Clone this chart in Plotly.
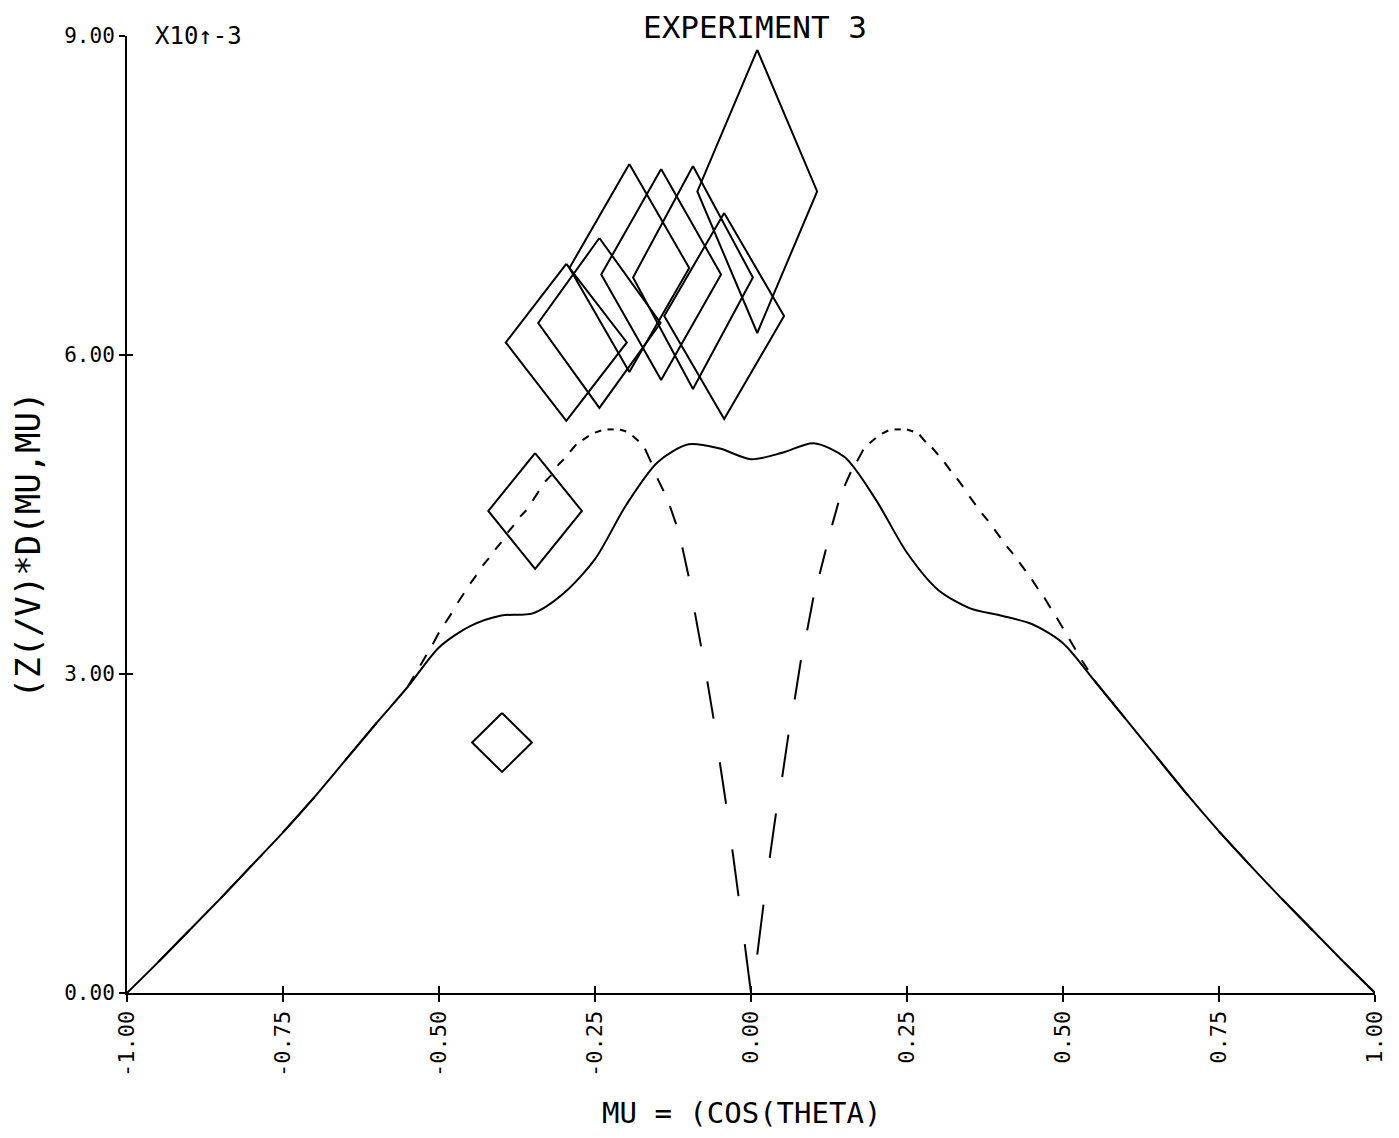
import plotly.graph_objects as go

FONT = "DejaVu Sans Mono"
INK = "black"

# ---- smeared angular distribution (solid curve), in units of 1e-3
mu_solid = [-1.00, -0.95, -0.90, -0.85, -0.80, -0.75, -0.70, -0.65, -0.60, -0.55,
            -0.50, -0.45, -0.40, -0.35, -0.30, -0.25, -0.20, -0.15, -0.10, -0.05,
            0.00, 0.05, 0.10, 0.15, 0.20, 0.25, 0.30, 0.35, 0.40, 0.45,
            0.50, 0.55, 0.60, 0.65, 0.70, 0.75, 0.80, 0.85, 0.90, 0.95, 1.00]
d_solid = [0.00, 0.29, 0.59, 0.89, 1.20, 1.51, 1.84, 2.19, 2.54, 2.88,
           3.25, 3.45, 3.55, 3.57, 3.76, 4.08, 4.59, 4.99, 5.16, 5.12,
           5.02, 5.08, 5.17, 5.04, 4.64, 4.14, 3.79, 3.62, 3.55, 3.47,
           3.29, 2.94, 2.58, 2.22, 1.86, 1.52, 1.20, 0.89, 0.59, 0.29, 0.00]

# ---- unsmeared branches (dashed curves), one for each hemisphere
mu_left = [-1.00, -0.95, -0.90, -0.85, -0.80, -0.75, -0.70, -0.65, -0.60,
           -0.55, -0.54, -0.53, -0.52, -0.51, -0.50, -0.49, -0.48, -0.47, -0.46,
           -0.45, -0.44, -0.43, -0.42, -0.41, -0.40, -0.39, -0.38, -0.37, -0.36,
           -0.35, -0.34, -0.33, -0.32, -0.31, -0.30, -0.29, -0.28, -0.27, -0.26,
           -0.25, -0.24, -0.23, -0.22, -0.21, -0.20, -0.19, -0.18, -0.17, -0.16,
           -0.15, -0.14, -0.13, -0.12, -0.11, -0.10, -0.09, -0.08, -0.07, -0.06,
           -0.05, -0.04, -0.03, -0.02, -0.01, 0.00]
d_left = [0.00, 0.29, 0.59, 0.89, 1.20, 1.51, 1.84, 2.19, 2.54,
          2.88, 2.98, 3.08, 3.18, 3.28, 3.39, 3.48, 3.57, 3.67, 3.76,
          3.85, 3.93, 4.02, 4.09, 4.17, 4.24, 4.33, 4.40, 4.48, 4.54,
          4.63, 4.72, 4.81, 4.87, 4.96, 5.02, 5.09, 5.16, 5.20, 5.24,
          5.27, 5.29, 5.30, 5.30, 5.30, 5.28, 5.24, 5.19, 5.12, 4.99,
          4.84, 4.72, 4.58, 4.41, 4.19, 3.92, 3.58, 3.26, 2.93, 2.58,
          2.17, 1.78, 1.35, 0.91, 0.46, 0.00]

mu_right = [0.00, 0.01, 0.02, 0.03, 0.04, 0.05, 0.06, 0.07, 0.08, 0.09,
            0.10, 0.11, 0.12, 0.13, 0.14, 0.15, 0.16, 0.17, 0.18, 0.19,
            0.20, 0.21, 0.22, 0.23, 0.24, 0.25, 0.26, 0.27, 0.28, 0.29,
            0.30, 0.31, 0.32, 0.33, 0.34, 0.35, 0.36, 0.37, 0.38, 0.39,
            0.40, 0.41, 0.42, 0.43, 0.44, 0.45, 0.46, 0.47, 0.48, 0.49,
            0.50, 0.51, 0.52, 0.53, 0.54, 0.55,
            0.60, 0.65, 0.70, 0.75, 0.80, 0.85, 0.90, 0.95, 1.00]
d_right = [0.00, 0.36, 0.83, 1.27, 1.69, 2.03, 2.43, 2.76, 3.13, 3.41,
           3.72, 3.94, 4.17, 4.40, 4.61, 4.77, 4.90, 5.00, 5.11, 5.17,
           5.22, 5.26, 5.29, 5.30, 5.30, 5.30, 5.28, 5.25, 5.18, 5.13,
           5.06, 4.99, 4.91, 4.84, 4.76, 4.67, 4.59, 4.51, 4.44, 4.36,
           4.28, 4.20, 4.13, 4.05, 3.97, 3.89, 3.80, 3.72, 3.62, 3.53,
           3.43, 3.33, 3.23, 3.13, 3.04, 2.94,
           2.58, 2.22, 1.86, 1.52, 1.20, 0.89, 0.59, 0.29, 0.00]

# ---- measured points: centre and half-widths of the error diamonds
pt_mu = [-0.399, -0.346, -0.296, -0.243, -0.195, -0.144, -0.093, -0.043, 0.010]
pt_d = [2.356, 4.533, 6.118, 6.301, 6.818, 6.757, 6.729, 6.367, 7.538]
pt_dmu = [0.048, 0.075, 0.097, 0.098, 0.096, 0.096, 0.096, 0.096, 0.096]
pt_dd = [0.277, 0.545, 0.738, 0.799, 0.978, 0.992, 1.049, 0.969, 1.331]

x_ticks = [-1.00, -0.75, -0.50, -0.25, 0.00, 0.25, 0.50, 0.75, 1.00]
x_ticktext = ["-1.00", "-0.75", "-0.50", "-0.25", "0.00", "0.25", "0.50", "0.75", "1.00"]
y_ticks = [0, 3, 6, 9]
y_ticktext = ["0.00", "3.00", "6.00", "9.00"]


def pen_segments(xs, ys, first_down):
    """Plotter-style dashing: the pen is lowered on every other step."""
    px, py = [], []
    for k in range(len(xs) - 1):
        if (k % 2 == 0) == first_down:
            px += [xs[k], xs[k + 1], None]
            py += [ys[k], ys[k + 1], None]
    return px, py


def diamonds(cx, cy, ex, ey):
    xs, ys = [], []
    for x, y, dx, dy in zip(cx, cy, ex, ey):
        xs += [x, x + dx, x, x - dx, x, None]
        ys += [y + dy, y, y - dy, y, y + dy, None]
    return xs, ys


fig = go.Figure()

lx, ly = pen_segments(mu_left, d_left, first_down=False)
rx, ry = pen_segments(mu_right, d_right, first_down=False)
for xs, ys in ((lx, ly), (rx, ry)):
    fig.add_trace(go.Scatter(x=xs, y=ys, mode="lines", showlegend=False,
                             line=dict(color=INK, width=2), hoverinfo="skip"))

fig.add_trace(go.Scatter(x=mu_solid, y=d_solid, mode="lines", showlegend=False,
                         line=dict(color=INK, width=2, shape="spline", smoothing=0.8)))

dx_, dy_ = diamonds(pt_mu, pt_d, pt_dmu, pt_dd)
fig.add_trace(go.Scatter(x=dx_, y=dy_, mode="lines", showlegend=False,
                         line=dict(color=INK, width=2)))

# companion axes carrying the inward half of the crossing tick marks
fig.add_trace(go.Scatter(x=[None], y=[None], xaxis="x2", yaxis="y2",
                         showlegend=False, hoverinfo="skip"))

fig.update_layout(
    width=1399, height=1138,
    margin=dict(l=127, r=18, t=36, b=145, pad=0),
    paper_bgcolor="white", plot_bgcolor="white",
    font=dict(family=FONT, color=INK),
    xaxis=dict(range=[-1, 1], showgrid=False, zeroline=False,
               showline=True, linecolor=INK, linewidth=2,
               ticks="outside", ticklen=7, tickwidth=2, tickcolor=INK,
               tickvals=x_ticks, ticktext=x_ticktext, tickangle=-90,
               ticklabeloverflow="allow",
               tickfont=dict(family=FONT, size=22, color=INK)),
    yaxis=dict(range=[0, 9], showgrid=False, zeroline=False,
               showline=True, linecolor=INK, linewidth=2,
               ticks="outside", ticklen=6, tickwidth=2, tickcolor=INK,
               tickvals=y_ticks, ticktext=y_ticktext,
               ticklabeloverflow="allow",
               tickfont=dict(family=FONT, size=21, color=INK)),
    xaxis2=dict(range=[-1, 1], overlaying="x", anchor="y2", side="bottom",
                showgrid=False, zeroline=False, showline=False,
                ticks="inside", ticklen=7, tickwidth=2, tickcolor=INK,
                tickvals=x_ticks, showticklabels=False),
    yaxis2=dict(range=[0, 9], overlaying="y", anchor="x2", side="left",
                showgrid=False, zeroline=False, showline=False,
                ticks="inside", ticklen=6, tickwidth=2, tickcolor=INK,
                tickvals=y_ticks, showticklabels=False),
    annotations=[
        dict(text="EXPERIMENT 3", xref="paper", yref="paper", x=0.503, y=1.0094,
             xanchor="center", yanchor="middle", showarrow=False,
             font=dict(family=FONT, size=31, color=INK)),
        dict(text="X10\u2191-3", xref="paper", yref="paper", x=0.021, y=1.0,
             xanchor="left", yanchor="middle", showarrow=False,
             font=dict(family=FONT, size=24, color=INK)),
        dict(text="MU = (COS(THETA)", xref="paper", yref="paper", x=0.492, y=-0.1254,
             xanchor="center", yanchor="middle", showarrow=False,
             font=dict(family=FONT, size=29, color=INK)),
        dict(text="(Z(/V)*D(MU,MU)", xref="paper", yref="paper", x=-0.079, y=0.468,
             xanchor="center", yanchor="middle", showarrow=False, textangle=-90,
             font=dict(family=FONT, size=34, color=INK)),
    ],
)

fig.write_html("out.html")
